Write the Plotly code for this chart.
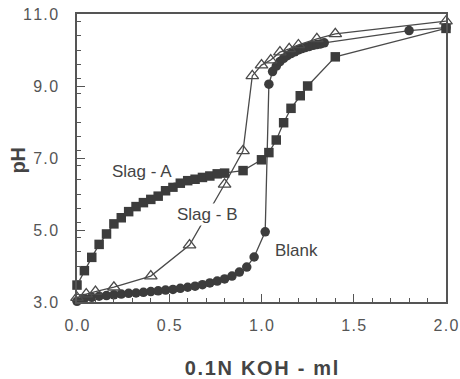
import plotly.graph_objects as go

# Slag - A (filled squares)
slag_a_x = [0.0, 0.04, 0.08, 0.12, 0.16, 0.20, 0.24, 0.28, 0.32, 0.36, 0.40, 0.44,
            0.48, 0.52, 0.56, 0.60, 0.64, 0.68, 0.72, 0.76, 0.80,
            0.90, 1.00, 1.04, 1.08, 1.12, 1.16, 1.21, 1.25, 1.40, 2.00]
slag_a_ph = [3.47, 3.87, 4.24, 4.60, 4.89, 5.17, 5.34, 5.51, 5.65, 5.76, 5.85, 5.94,
             6.09, 6.19, 6.30, 6.37, 6.41, 6.46, 6.50, 6.56, 6.58,
             6.65, 6.95, 7.15, 7.50, 7.98, 8.38, 8.73, 9.00, 9.81, 10.60]

# Slag - B (open triangles)
slag_b_x = [0.0, 0.05, 0.10, 0.20, 0.40, 0.61, 0.80, 0.90, 0.95, 1.00, 1.05, 1.10,
            1.15, 1.20, 1.30, 1.40, 2.00]
slag_b_ph = [3.12, 3.22, 3.29, 3.41, 3.72, 4.58, 6.27, 7.20, 9.28, 9.58, 9.72, 9.94,
             10.03, 10.14, 10.31, 10.45, 10.80]

# Blank (filled circles)
blank_x = [0.0, 0.04, 0.08, 0.12, 0.16, 0.20, 0.24, 0.28, 0.32, 0.36, 0.40, 0.44,
           0.48, 0.52, 0.56, 0.60, 0.64, 0.68, 0.72, 0.76, 0.80, 0.84, 0.88,
           0.92, 0.96, 1.02, 1.04, 1.06, 1.08, 1.10, 1.12, 1.14, 1.16, 1.18,
           1.20, 1.22, 1.24, 1.26, 1.28, 1.30, 1.32, 1.34, 1.80, 2.00]
blank_ph = [3.02, 3.10, 3.13, 3.16, 3.18, 3.20, 3.22, 3.24, 3.25, 3.27, 3.29, 3.31,
            3.33, 3.35, 3.38, 3.41, 3.44, 3.48, 3.53, 3.58, 3.64, 3.72, 3.83,
            3.97, 4.25, 4.95, 9.05, 9.40, 9.55, 9.68, 9.77, 9.84, 9.90, 9.95,
            10.00, 10.04, 10.07, 10.10, 10.13, 10.15, 10.17, 10.20, 10.54, 10.62]

x_tickvals = [0.0, 0.5, 1.0, 1.5, 2.0]
x_ticktext = ["0.0", "0.5", "1.0", "1.5", "2.0"]
y_tickvals = [3.0, 5.0, 7.0, 9.0, 11.0]
y_ticktext = ["3.0", "5.0", "7.0", "9.0", "11.0"]

labels = ["Slag - A", "Slag - B", "Blank"]
label_x = [0.35, 0.705, 1.19]
label_y = [6.62, 5.42, 4.44]

x_title = "0.1N KOH - ml"
y_title = "pH"

line_col = "#4a4a4a"
mark_col = "#3c3c3c"
HS = "\u200a"  # hair space to mimic the wide letter spacing


def spaced(s):
    return HS.join(list(s))


fig = go.Figure()
fig.add_trace(go.Scatter(x=blank_x, y=blank_ph, mode="lines+markers",
                         line=dict(color=line_col, width=1.3),
                         marker=dict(symbol="circle", size=9.5, color=mark_col)))
fig.add_trace(go.Scatter(x=slag_b_x, y=slag_b_ph, mode="lines+markers",
                         line=dict(color=line_col, width=1.3),
                         marker=dict(symbol="triangle-up-open", size=11, color=line_col,
                                     line=dict(width=1.3))))
fig.add_trace(go.Scatter(x=slag_a_x, y=slag_a_ph, mode="lines+markers",
                         line=dict(color=line_col, width=1.3),
                         marker=dict(symbol="square", size=9.5, color=mark_col)))

for t, lx, ly in zip(labels, label_x, label_y):
    fig.add_annotation(x=lx, y=ly, text=t, showarrow=False,
                       font=dict(family="Liberation Sans, Arial", size=17, color="#444"),
                       bgcolor="white", borderpad=1)

# y-axis title placed as rotated text so it can sit at the reference position
fig.add_annotation(x=-0.161, y=0.493, xref="paper", yref="paper", text="<b>" + y_title + "</b>",
                   textangle=-90, showarrow=False, xanchor="center", yanchor="middle",
                   font=dict(family="Liberation Sans, Arial", size=20, color="#444"))

fig.update_layout(
    width=460, height=379,
    margin=dict(l=77, r=14, t=14, b=77),
    paper_bgcolor="white", plot_bgcolor="white",
    showlegend=False,
    font=dict(family="Liberation Sans, Arial", color="#555"),
)
fig.update_xaxes(
    range=[0, 2.0], tickvals=x_tickvals, ticktext=[spaced(s) for s in x_ticktext],
    ticks="inside", ticklen=8, tickwidth=1.2, tickcolor="#555",
    minor=dict(dtick=0.1, ticks="inside", ticklen=4, tickcolor="#555", tickwidth=1),
    showline=True, linecolor="#555", linewidth=1.5, mirror=True,
    showgrid=False, zeroline=False, automargin=False, ticklabeloverflow="allow",
    tickfont=dict(size=16, color="#555"), ticklabelstandoff=8,
    title=dict(text="<b>" + spaced(x_title) + "</b>", font=dict(size=20, color="#444"),
               standoff=28),
)
fig.update_yaxes(
    range=[3.0, 11.0], tickvals=y_tickvals, ticktext=[spaced(s) for s in y_ticktext],
    ticks="inside", ticklen=8, tickwidth=1.2, tickcolor="#555",
    minor=dict(dtick=0.4, ticks="inside", ticklen=4, tickcolor="#555", tickwidth=1),
    showline=True, linecolor="#555", linewidth=1.5, mirror=True,
    showgrid=False, zeroline=False, automargin=False, ticklabeloverflow="allow",
    tickfont=dict(size=16, color="#555"), ticklabelstandoff=14,
)
fig.update_traces(cliponaxis=False)

# remove the browser's default 8 px body margin so the figure sits at (0, 0)
fig.write_html("out.html", config={"displayModeBar": False},
               post_script="document.body.style.margin='0';document.body.style.overflow='hidden';")
